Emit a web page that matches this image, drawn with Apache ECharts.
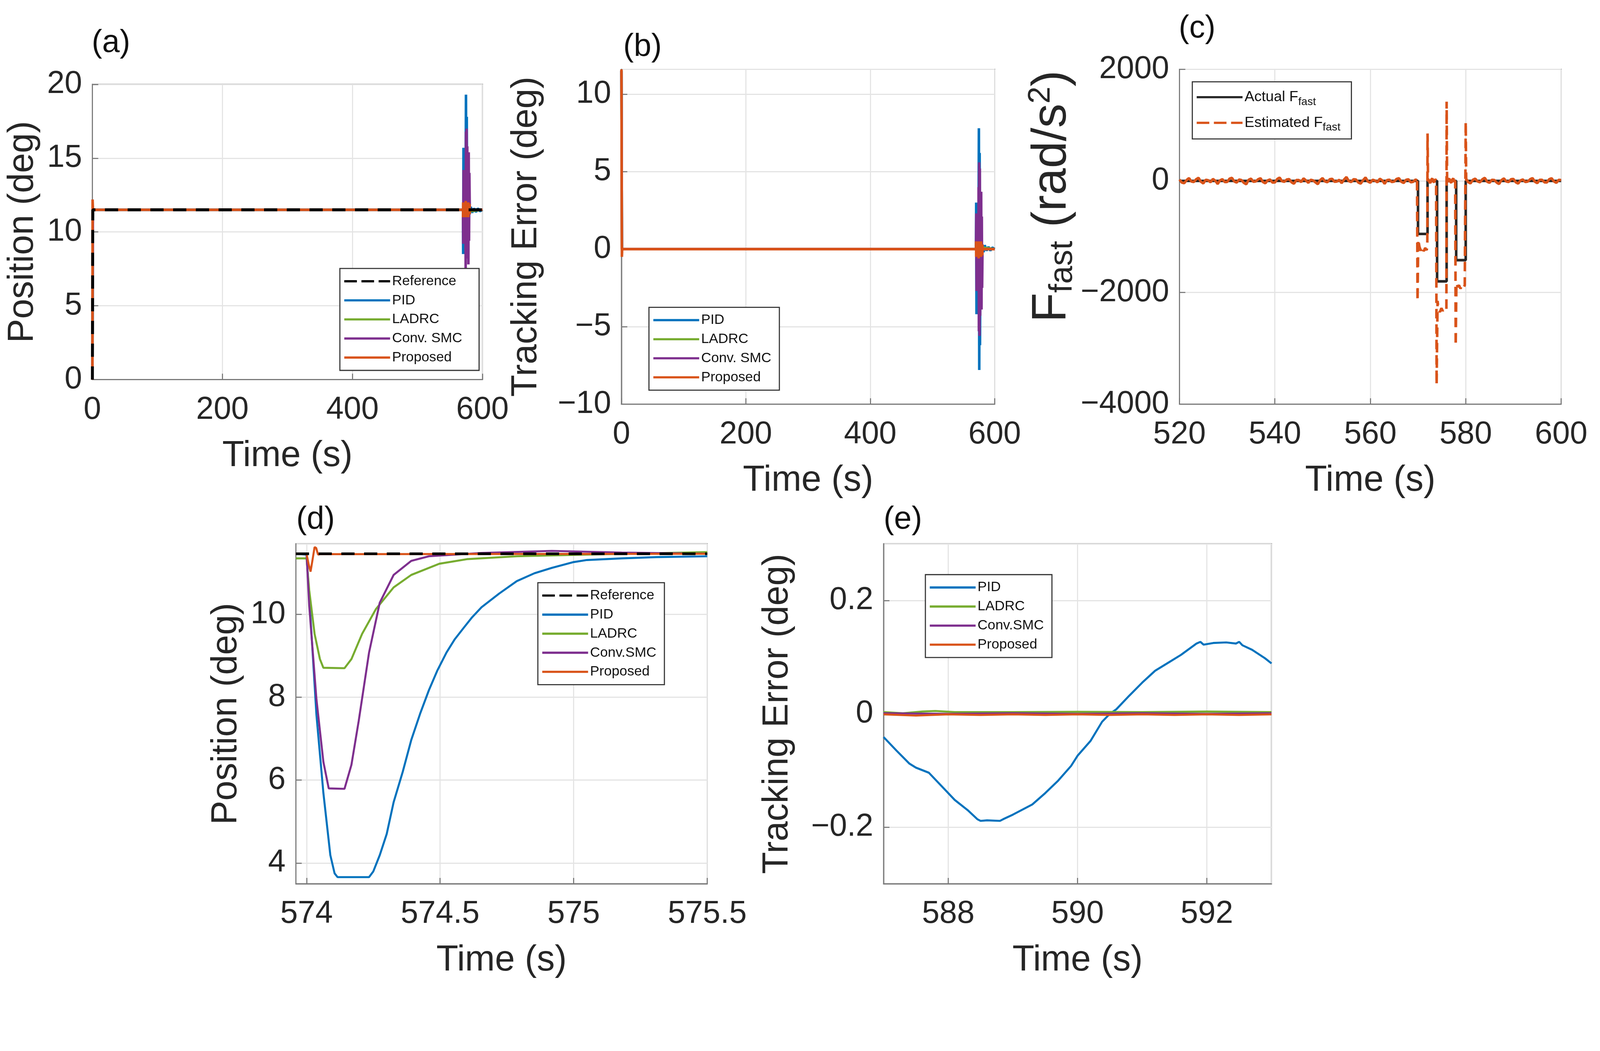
<!DOCTYPE html>
<html lang="en">
  <head>
    <meta charset="utf-8" />
    <title>Position and tracking error comparison</title>
    <script src="https://cdn.jsdelivr.net/npm/echarts@6.0.0/dist/echarts.min.js"></script>
    <style>
      html, body { margin: 0; padding: 0; background: #fff; overflow: hidden; }
    </style>
  </head>
  <body>
    <div id="main"></div>
    <script type="text/javascript">
      // ---- panel (a): position over the whole run ----
      var refA = [[0, 0], [0.6, 0], [0.6, 11.5], [600, 11.5]];
      var pidA = [[0, 0], [0.8, 11.6], [1.5, 11.5], [570, 11.5], [570.3, 8.5], [570.8, 15.7], [571.3, 11.5], [574, 11.5], [574.6, 19.3], [575.2, 9.5], [575.8, 17.8], [576.4, 11.2], [578, 11.5], [578.4, 10.2], [579, 12.8], [580, 11.2], [582, 11.7], [584, 11.3], [587, 11.6], [590, 11.35], [593, 11.6], [596, 11.4], [600, 11.5]];
      var ladrcA = [[0, 0], [0.8, 11.5], [570, 11.5], [570.5, 10.6], [571.5, 11.5], [574, 11.5], [574.1, 8.7], [574.8, 11.4], [576, 11.5], [576.3, 10.4], [577, 11.5], [578, 11.5], [578.3, 9.8], [579, 11.4], [600, 11.5]];
      var smcA = [[0, 0], [0.8, 11.5], [570, 11.5], [570.4, 9.2], [570.9, 14.2], [571.4, 11.5], [574, 11.5], [574.1, 7.5], [574.6, 16.8], [575.1, 8.2], [575.6, 17], [576.1, 8.6], [576.6, 15.8], [577.1, 10.5], [578, 11.5], [578.3, 7.8], [578.8, 15.4], [579.3, 9.4], [579.8, 14], [580.4, 11.5], [600, 11.5]];
      var propA = [[0, 0], [0.3, 12.2], [0.9, 11.5], [570, 11.5], [570.1, 11.0], [570.25, 12.0], [570.45, 11.5], [574, 11.5], [574.1, 11.0], [574.25, 12.1], [574.45, 11.5], [576, 11.5], [576.1, 11.1], [576.25, 11.9], [576.45, 11.5], [578, 11.5], [578.1, 11.0], [578.25, 12.0], [578.45, 11.5], [580, 11.5], [580.1, 11.9], [580.25, 11.2], [580.45, 11.5], [600, 11.5]];

      // ---- panel (b): tracking error over the whole run ----
      var pidB = [[0, 11.5], [0.8, 0], [570, 0], [570.3, 3], [570.8, -4.2], [571.3, 0], [574, 0], [574.6, 7.8], [575.2, -7.8], [575.8, 6.2], [576.4, -6.2], [577, 0.3], [578, 0], [578.4, 1.3], [579, -1.3], [580, 0.3], [582, -0.2], [584, 0.25], [587, -0.1], [590, 0.15], [593, -0.1], [596, 0.1], [600, 0]];
      var ladrcB = [[0, 11.5], [0.8, 0], [570, 0], [570.5, 0.9], [571.5, 0], [574, 0], [574.1, 2.8], [574.8, 0.1], [576, 0], [576.3, 1.1], [577, 0], [578, 0], [578.3, 1.7], [579, 0.1], [600, 0]];
      var smcB = [[0, 11.5], [0.8, 0], [570, 0], [570.4, 2.3], [570.9, -2.7], [571.4, 0], [574, 0], [574.1, 4], [574.6, -5.3], [575.1, 5.6], [575.6, -5.6], [576.1, 5.2], [576.6, -4.3], [577.1, 1], [578, 0], [578.3, 3.7], [578.8, -3.9], [579.3, 2.1], [579.8, -2.5], [580.4, 0], [600, 0]];
      var propB = [[0, 11.6], [0.5, 11.6], [0.7, -0.5], [1.2, 0], [570, 0], [570.1, 0.5], [570.25, -0.5], [570.45, 0], [574, 0], [574.1, 0.5], [574.25, -0.6], [574.45, 0], [576, 0], [576.1, 0.4], [576.25, -0.4], [576.45, 0], [578, 0], [578.1, 0.5], [578.25, -0.5], [578.45, 0], [580, 0], [580.1, -0.4], [580.25, 0.3], [580.45, 0], [600, 0]];

      // ---- panel (c): fast disturbance, actual vs estimated ----
      var actualC = [[520, 0], [570, 0], [570, -950], [572, -950], [572, 0], [574, 0], [574, -1800], [576, -1800], [576, 0], [578, 0], [578, -1420], [580, -1420], [580, 0], [600, 0]];
      var estC = [[569.8, 0], [569.9, -2150], [570.05, -1050], [570.3, -1180], [570.6, -1250], [570.9, -1180], [571.2, -1260], [571.5, -1200], [571.8, -1240], [571.95, -1190], [572.0, 850], [572.1, 0],
                  [573.8, 0], [573.9, -3650], [574.1, -2150], [574.3, -2300], [574.6, -2350], [574.9, -2280], [575.2, -2330], [575.5, -2290], [575.8, -2320], [575.95, -2300], [576.0, 1420], [576.1, 0],
                  [577.8, 0], [577.9, -2950], [578.05, -1830], [578.3, -1900], [578.6, -1870], [578.9, -1930], [579.2, -1880], [579.5, -1920], [579.8, -1870], [579.95, -1860], [580.0, 1060], [580.1, 0]];
      var noiseC1 = [[520, 25], [520.5, -30], [521, -40], [521.5, 15], [522, 50], [522.5, -10], [523, -20], [523.5, 30], [524, 55], [524.5, -15], [525, -45], [525.5, 20], [526, 12], [526.5, -25], [527, 35], [527.5, 5], [528, -55], [528.5, 10], [529, 30], [529.5, -20], [530, -18], [530.5, 40], [531, 55], [531.5, -10], [532, -30], [532.5, 25], [533, 15], [533.5, -35], [534, -60], [534.5, 20], [535, 40], [535.5, -15], [536, -8], [536.5, 30], [537, 48], [537.5, -20], [538, -42], [538.5, 10], [539, 25], [539.5, -30], [540, -28], [540.5, 35], [541, 60], [541.5, -5], [542, -15], [542.5, 25], [543, 32], [543.5, -25], [544, -50], [544.5, 15], [545, 16], [545.5, -20], [546, 45], [546.5, 10], [547, -35], [547.5, 20], [548, 10], [548.5, -25], [549, -58], [549.5, 15], [550, 50], [550.5, -10], [551, -24], [551.5, 30], [552, 38], [552.5, -15], [553, -10], [553.5, 20], [554, -40], [554.5, 25], [555, 70], [555.5, -5], [556, -20], [556.5, 30], [557, 25], [557.5, -30], [558, -48], [558.5, 15], [559, 62], [559.5, -10], [560, -32], [560.5, 20], [561, 6], [561.5, -25], [562, 40], [562.5, 10], [563, -52], [563.5, 15], [564, 22], [564.5, -20], [565, -12], [565.5, 35], [566, 48], [566.5, -15], [567, -38], [567.5, 20], [568, 28], [568.5, -25], [569, -15], [569.5, 25], [569.8, 10]];
      var noiseC2 = [[572.15, 30], [572.4, -20], [572.6, -38], [572.8, 25], [573, 45], [573.2, -10], [573.4, -25], [573.6, 30], [573.8, 10]];
      var noiseC3 = [[576.15, -25], [576.4, 30], [576.6, 38], [576.8, -20], [577, -32], [577.2, 25], [577.4, 45], [577.6, -15], [577.8, -5]];
      var noiseC4 = [[580.15, 30], [580.5, -20], [581, -45], [581.5, 20], [582, 40], [582.5, -10], [583, -25], [583.5, 30], [584, 55], [584.5, -15], [585, -32], [585.5, 20], [586, 16], [586.5, -30], [587, -55], [587.5, 15], [588, 45], [588.5, -10], [589, -20], [589.5, 30], [590, 35], [590.5, -25], [591, -48], [591.5, 10], [592, 25], [592.5, -20], [593, -12], [593.5, 30], [594, 50], [594.5, -15], [595, -40], [595.5, 20], [596, 20], [596.5, -25], [597, -28], [597.5, 30], [598, 48], [598.5, -10], [599, -35], [599.5, 20], [600, 15]];

      // ---- panel (d): zoom on the 574 s disturbance ----
      var refD = [[573.96, 11.46], [575.5, 11.46]];
      var pidD = [[573.96, 11.46], [574.0, 11.44], [574.017, 9.68], [574.037, 7.57], [574.063, 5.69], [574.089, 4.19], [574.105, 3.75], [574.116, 3.66], [574.234, 3.66], [574.25, 3.8], [574.274, 4.19], [574.3, 4.7], [574.326, 5.47], [574.36, 6.2], [574.392, 6.97], [574.425, 7.6], [574.458, 8.17], [574.49, 8.65], [574.524, 9.08], [574.555, 9.4], [574.589, 9.68], [574.62, 9.93], [574.655, 10.17], [574.721, 10.5], [574.787, 10.8], [574.853, 10.99], [574.918, 11.12], [575.0, 11.26], [575.05, 11.31], [575.18, 11.35], [575.31, 11.38], [575.5, 11.4]];
      var ladrcD = [[573.96, 11.35], [574.0, 11.35], [574.01, 10.58], [574.03, 9.53], [574.05, 8.92], [574.063, 8.71], [574.142, 8.7], [574.168, 8.92], [574.208, 9.53], [574.26, 10.13], [574.326, 10.65], [574.392, 10.95], [574.497, 11.22], [574.6, 11.33], [574.787, 11.4], [575.05, 11.44], [575.5, 11.5]];
      var smcD = [[573.96, 11.46], [574.0, 11.46], [574.01, 10.2], [574.037, 7.95], [574.063, 6.44], [574.083, 5.8], [574.142, 5.79], [574.168, 6.37], [574.195, 7.42], [574.234, 9.08], [574.274, 10.28], [574.326, 10.95], [574.392, 11.29], [574.458, 11.4], [574.655, 11.48], [574.918, 11.53], [575.18, 11.49], [575.5, 11.46]];
      var propD = [[573.96, 11.46], [574.0, 11.46], [574.008, 11.2], [574.015, 11.03], [574.022, 11.3], [574.03, 11.62], [574.036, 11.6], [574.043, 11.44], [574.05, 11.45], [575.5, 11.46]];

      // ---- panel (e): tracking error, 587-593 s ----
      var pidE = [[587, -0.041], [587.2, -0.065], [587.4, -0.088], [587.5, -0.095], [587.7, -0.104], [587.9, -0.128], [588.1, -0.152], [588.3, -0.17], [588.45, -0.186], [588.5, -0.189], [588.6, -0.188], [588.8, -0.189], [588.85, -0.186], [589.0, -0.178], [589.3, -0.16], [589.5, -0.14], [589.7, -0.118], [589.9, -0.092], [590.0, -0.074], [590.2, -0.048], [590.38, -0.014], [590.5, 0.0], [590.6, 0.008], [590.8, 0.032], [591.0, 0.055], [591.2, 0.076], [591.4, 0.09], [591.6, 0.104], [591.84, 0.124], [591.9, 0.127], [591.95, 0.122], [592.1, 0.125], [592.3, 0.126], [592.45, 0.124], [592.5, 0.127], [592.55, 0.121], [592.7, 0.113], [592.9, 0.098], [593.0, 0.089]];
      var ladrcE = [[587, 0.003], [587.3, 0.001], [587.6, 0.004], [587.8, 0.005], [588.1, 0.003], [589, 0.003], [590, 0.0035], [591, 0.003], [592, 0.004], [593, 0.003]];
      var smcE = [[587, 0.001], [588, 0.0], [589, 0.001], [590, 0.0], [591, 0.001], [592, 0.0], [593, 0.001]];
      var propE = [[587, -0.001], [587.5, -0.003], [588, -0.001], [588.5, -0.002], [589, -0.001], [589.5, -0.002], [590, -0.001], [590.5, -0.002], [591, -0.001], [591.5, -0.002], [592, -0.001], [592.5, -0.002], [593, -0.001]];

      // layout is written for a 4364 x 2690 page, scaled to whatever the viewport really is
      var W = 4364, H = 2690;
      var k = Math.min(window.innerWidth / W, window.innerHeight / H);
      function px(v) { return v * k; }

      var dom = document.getElementById('main');
      dom.style.width = px(W) + 'px';
      dom.style.height = px(H) + 'px';

      var FONT = '"Liberation Sans", Arial, Helvetica, sans-serif';
      var TXT = '#262626';
      var BOX = '#7a7a7a';
      var C_PID = '#0072BD', C_LADRC = '#77AC30', C_SMC = '#7E2F8E', C_PROP = '#D95319';
      var ICON_SOLID = 'path://M0,0H40V4H0Z';
      var ICON_DASH = 'path://M0,0H11V4H0ZM15,0H26V4H15ZM30,0H40V4H30Z';

      function minus(v) { return String(v).replace('-', '\u2212'); }

      function axis(gi, o) {
        var a = {
          type: 'value', gridIndex: gi, min: o.min, max: o.max,
          name: o.name, nameLocation: 'middle', nameGap: px(o.gap),
          nameTextStyle: { fontFamily: FONT, fontSize: px(o.nameSize || 98), color: TXT, rich: o.rich, padding: o.namePad },
          axisLine: { show: true, onZero: false, lineStyle: { color: BOX, width: px(3) } },
          axisTick: { show: true, inside: true, length: px(16), lineStyle: { color: BOX, width: px(3) } },
          axisLabel: { fontFamily: FONT, fontSize: px(86), color: TXT, margin: px(o.margin), formatter: minus,
                       showMinLabel: o.showMin !== false, showMaxLabel: o.showMax !== false },
          splitLine: { show: true, lineStyle: { color: '#e4e4e4', width: px(3) } }
        };
        if (o.interval) a.interval = o.interval;
        if (o.split) a.splitNumber = o.split;
        return a;
      }

      function line(name, data, gi, color, width, dash) {
        return {
          name: name, type: 'line', data: data, xAxisIndex: gi, yAxisIndex: gi,
          showSymbol: false, symbol: 'none', animation: false,
          lineStyle: { color: color, width: px(width), type: dash ? dash.map(px) : 'solid' },
          itemStyle: { color: color }
        };
      }

      function legend(left, top, names, extra) {
        var l = {
          orient: 'vertical', left: px(left), top: px(top),
          data: names.map(function (n) {
            return { name: n, icon: (n === 'Reference' || n.indexOf('Estimated') === 0) ? ICON_DASH : ICON_SOLID };
          }),
          symbolKeepAspect: false,
          backgroundColor: '#fff', borderColor: '#333', borderWidth: px(3),
          padding: [px(14), px(22), px(14), px(12)], itemGap: px(10), itemWidth: px(125), itemHeight: px(6),
          textStyle: { fontFamily: FONT, fontSize: px(38), color: '#111', lineHeight: px(42) },
          selectedMode: false
        };
        if (extra) for (var key in extra) l[key] = extra[key];
        return l;
      }

      function grid(left, top, width, height) {
        return { left: px(left), top: px(top), width: px(width), height: px(height),
                 show: true, borderColor: BOX, borderWidth: px(3) };
      }

      function tag(text, left, top) {
        return { type: 'text', left: px(left), top: px(top),
                 style: { text: text, font: px(86) + 'px ' + FONT, fill: '#111' } };
      }

      var chart = echarts.init(dom, null, { renderer: 'canvas' });

      var option = {
        backgroundColor: '#fff',
        animation: false,
        grid: [
          grid(252, 230, 1064, 805),
          grid(1695, 189, 1018, 913),
          grid(3217, 189, 1041, 913),
          grid(807, 1483, 1122, 927),
          grid(2410, 1483, 1058, 927)
        ],
        xAxis: [
          axis(0, { min: 0, max: 600, interval: 200, name: 'Time (s)', gap: 160, margin: 40 }),
          axis(1, { min: 0, max: 600, interval: 200, name: 'Time (s)', gap: 160, margin: 40 }),
          axis(2, { min: 520, max: 600, interval: 20, name: 'Time (s)', gap: 160, margin: 40 }),
          axis(3, { min: 573.96, max: 575.5, split: 3, showMin: false, name: 'Time (s)', gap: 160, margin: 40 }),
          axis(4, { min: 587, max: 593, split: 3, showMin: false, showMax: false, name: 'Time (s)', gap: 160, margin: 40 })
        ],
        yAxis: [
          axis(0, { min: 0, max: 20, interval: 5, name: 'Position (deg)', gap: 140, margin: 28 }),
          axis(1, { min: -10, max: 11.6, interval: 5, showMax: false, name: 'Tracking Error (deg)', gap: 210, margin: 28 }),
          axis(2, { min: -4000, max: 2000, interval: 2000, name: 'F{s|fast} (rad/s{p|2})', gap: 160, margin: 28,
                    nameSize: 132, namePad: [0, 0, 0, px(220)],
                    rich: { s: { fontFamily: FONT, fontSize: px(88), color: TXT, padding: [0, 0, px(-58), 0] },
                            p: { fontFamily: FONT, fontSize: px(84), color: TXT, padding: [0, 0, px(62), 0] } } }),
          axis(3, { min: 3.5, max: 11.7, split: 4, showMin: false, showMax: false, name: 'Position (deg)', gap: 140, margin: 28 }),
          axis(4, { min: -0.3, max: 0.3, split: 3, showMin: false, showMax: false, name: 'Tracking Error (deg)', gap: 240, margin: 28 })
        ],
        legend: [
          legend(927, 732, ['Reference', 'PID', 'LADRC', 'Conv. SMC', 'Proposed'], { padding: [px(14), px(46), px(14), px(12)] }),
          legend(1770, 838, ['PID', 'LADRC', 'Conv. SMC', 'Proposed']),
          legend(3252, 223, ['Actual F_fast', 'Estimated F_fast'], {
            itemGap: px(16), padding: [px(16), px(30), px(16), px(12)],
            textStyle: { fontFamily: FONT, fontSize: px(40), color: '#111', lineHeight: px(52),
                         rich: { sub: { fontFamily: FONT, fontSize: px(30), color: '#111', padding: [0, 0, px(-26), 0] } } },
            formatter: function (n) { return n.replace('F_fast', 'F{sub|fast}'); }
          }),
          legend(1467, 1589, ['Reference', 'PID', 'LADRC', 'Conv.SMC', 'Proposed']),
          legend(2524, 1567, ['PID', 'LADRC', 'Conv.SMC', 'Proposed'])
        ],
        graphic: [
          tag('(a)', 250, 75),
          tag('(b)', 1700, 85),
          tag('(c)', 3215, 35),
          tag('(d)', 808, 1375),
          tag('(e)', 2410, 1375)
        ],
        series: [
          line('PID', pidA, 0, C_PID, 7),
          line('LADRC', ladrcA, 0, C_LADRC, 7),
          line('Conv. SMC', smcA, 0, C_SMC, 7),
          line('Proposed', propA, 0, C_PROP, 7),
          line('Reference', refA, 0, '#000', 8, [36, 26]),

          line('PID', pidB, 1, C_PID, 7),
          line('LADRC', ladrcB, 1, C_LADRC, 7),
          line('Conv. SMC', smcB, 1, C_SMC, 7),
          line('Proposed', propB, 1, C_PROP, 7),

          line('Actual F_fast', actualC, 2, '#262626', 7),
          line('Estimated F_fast', estC, 2, C_PROP, 7, [26, 16]),
          line('Estimated F_fast', noiseC1, 2, C_PROP, 7),
          line('Estimated F_fast', noiseC2, 2, C_PROP, 7),
          line('Estimated F_fast', noiseC3, 2, C_PROP, 7),
          line('Estimated F_fast', noiseC4, 2, C_PROP, 7),

          line('PID', pidD, 3, C_PID, 5.5),
          line('LADRC', ladrcD, 3, C_LADRC, 5.5),
          line('Conv.SMC', smcD, 3, C_SMC, 5.5),
          line('Proposed', propD, 3, C_PROP, 5.5),
          line('Reference', refD, 3, '#000', 7, [36, 26]),

          line('PID', pidE, 4, C_PID, 5.5),
          line('LADRC', ladrcE, 4, C_LADRC, 5.5),
          line('Conv.SMC', smcE, 4, C_SMC, 5.5),
          line('Proposed', propE, 4, C_PROP, 5.5)
        ]
      };

      chart.setOption(option);
    </script>
  </body>
</html>
